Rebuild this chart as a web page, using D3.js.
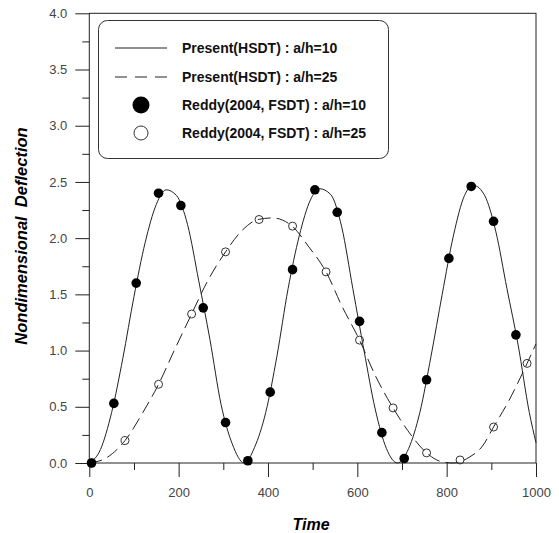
<!DOCTYPE html>
<html>
<head>
<meta charset="utf-8">
<script src="https://cdn.jsdelivr.net/npm/d3@7"></script>
<style>
  body { margin: 0; background: #fff; }
  svg { display: block; font-family: Arial, "Liberation Sans", sans-serif; }
</style>
</head>
<body>
<div id="chart"></div>
<script>
// curve of the present HSDT solution, a/h=10
const hsdt10 = [
  [0, 0], [25, 0.12], [50, 0.45], [75, 0.93], [100, 1.48], [125, 1.96], [150, 2.30],
  [172, 2.43], [195, 2.38], [220, 2.12], [245, 1.62], [270, 1.10], [295, 0.52],
  [320, 0.17], [347, 0.0], [370, 0.14], [395, 0.45], [420, 0.95], [445, 1.55],
  [470, 2.02], [495, 2.34], [515, 2.44], [540, 2.39], [565, 2.10], [590, 1.55],
  [615, 1.00], [640, 0.48], [665, 0.13], [690, 0.0], [715, 0.13], [740, 0.45],
  [765, 0.95], [790, 1.50], [815, 2.02], [840, 2.38], [860, 2.47], [885, 2.38],
  [910, 2.06], [935, 1.55], [960, 1.05], [985, 0.45], [1000, 0.18]
];
// curve of the present HSDT solution, a/h=25
const hsdt25 = [
  [0, 0], [40, 0.05], [80, 0.20], [120, 0.45], [155, 0.70], [190, 1.00], [229, 1.325],
  [265, 1.62], [305, 1.878], [340, 2.06], [378, 2.166], [410, 2.18], [454, 2.107],
  [490, 1.93], [530, 1.70], [565, 1.40], [605, 1.093], [640, 0.78], [680, 0.49],
  [720, 0.25], [755, 0.09], [790, 0.01], [815, 0.0], [850, 0.05], [880, 0.15],
  [905, 0.32], [940, 0.56], [980, 0.886], [1000, 1.06]
];
// Reddy (2004, FSDT) points
const reddy10 = [
  [5, 0.0], [55, 0.53], [105, 1.60], [155, 2.40], [205, 2.29], [255, 1.38],
  [305, 0.36], [355, 0.02], [405, 0.63], [455, 1.72], [505, 2.43], [555, 2.23],
  [605, 1.26], [655, 0.27], [705, 0.04], [755, 0.74], [805, 1.82], [855, 2.46],
  [905, 2.15], [955, 1.14]
];
const reddy25 = [
  [5, 0.0], [80, 0.20], [155, 0.70], [229, 1.325], [305, 1.878], [380, 2.166],
  [455, 2.107], [530, 1.70], [605, 1.093], [680, 0.49], [755, 0.09], [830, 0.027],
  [905, 0.32], [980, 0.886]
];
const legendLabels = [
  'Present(HSDT) : a/h=10',
  'Present(HSDT) : a/h=25',
  'Reddy(2004, FSDT) : a/h=10',
  'Reddy(2004, FSDT) : a/h=25'
];
const xTicks = [0, 200, 400, 600, 800, 1000];
const yTicks = [0, 0.5, 1.0, 1.5, 2.0, 2.5, 3.0, 3.5, 4.0];

const width = 559, height = 533;
const plotLeft = 89.3, plotRight = 536, plotTop = 13.3, plotBottom = 463;

const svg = d3.select('#chart').append('svg')
  .attr('width', width)
  .attr('height', height);

const x = d3.scaleLinear().domain([0, 1000]).range([plotLeft, plotRight]);
const y = d3.scaleLinear().domain([0, 4]).range([plotBottom, plotTop]);

// frame
svg.append('rect')
  .attr('x', plotLeft).attr('y', plotTop)
  .attr('width', plotRight - plotLeft).attr('height', plotBottom - plotTop)
  .attr('fill', 'none').attr('stroke', '#222').attr('stroke-width', 1);

// minor ticks
svg.append('g')
  .attr('transform', `translate(${plotLeft},0)`)
  .call(d3.axisLeft(y).tickValues(d3.range(0.25, 4, 0.5)).tickSize(7).tickSizeOuter(0).tickFormat(''));
svg.append('g')
  .attr('transform', `translate(0,${plotBottom})`)
  .call(d3.axisBottom(x).tickValues(d3.range(100, 1000, 200)).tickSize(7).tickSizeOuter(0).tickFormat(''));

// major ticks
const yAxis = svg.append('g')
  .attr('transform', `translate(${plotLeft},0)`)
  .call(d3.axisLeft(y).tickValues(yTicks).tickSize(14).tickPadding(8).tickFormat(d3.format('.1f')));
const xAxis = svg.append('g')
  .attr('transform', `translate(0,${plotBottom})`)
  .call(d3.axisBottom(x).tickValues(xTicks).tickSize(14).tickPadding(11).tickFormat(d3.format('d')));

svg.selectAll('.tick line').attr('stroke', '#222');
svg.selectAll('.domain').remove();
[yAxis, xAxis].forEach(a => a.selectAll('text')
  .attr('font-size', 13).attr('fill', '#444')
  .attr('font-family', 'Arial, "Liberation Sans", sans-serif'));

// curves
const line = d3.line()
  .x(d => x(d[0]))
  .y(d => y(d[1]))
  .curve(d3.curveMonotoneX);

svg.append('path')
  .datum(hsdt10)
  .attr('d', line)
  .attr('fill', 'none').attr('stroke', '#222').attr('stroke-width', 1);

svg.append('path')
  .datum(hsdt25)
  .attr('d', line)
  .attr('fill', 'none').attr('stroke', '#222').attr('stroke-width', 1)
  .attr('stroke-dasharray', '13,6');

svg.append('g').selectAll('circle')
  .data(reddy25)
  .enter().append('circle')
  .attr('cx', d => x(d[0])).attr('cy', d => y(d[1]))
  .attr('r', 4).attr('fill', 'none').attr('stroke', '#333');

svg.append('g').selectAll('circle')
  .data(reddy10)
  .enter().append('circle')
  .attr('cx', d => x(d[0])).attr('cy', d => y(d[1]))
  .attr('r', 4.8).attr('fill', '#000');

// axis titles
svg.append('text')
  .attr('x', 311).attr('y', 530)
  .attr('text-anchor', 'middle')
  .attr('font-size', 16).attr('font-weight', 'bold').attr('font-style', 'italic')
  .text('Time');

svg.append('text')
  .attr('transform', 'translate(27,236) rotate(-90)')
  .attr('text-anchor', 'middle')
  .attr('font-size', 16.5).attr('font-weight', 'bold').attr('font-style', 'italic')
  .style('white-space', 'pre')
  .text('Nondimensional  Deflection');

// legend
const legend = svg.append('g');
legend.append('rect')
  .attr('x', 98.5).attr('y', 20.5)
  .attr('width', 290).attr('height', 138)
  .attr('rx', 9).attr('ry', 9)
  .attr('fill', '#fff').attr('stroke', '#333').attr('stroke-width', 1);

const rowY = [48, 77, 105, 133];
const items = legend.selectAll('.legend')
  .data(legendLabels)
  .enter().append('g')
  .attr('class', 'legend')
  .attr('transform', (d, i) => `translate(0,${rowY[i]})`);

items.append('text')
  .attr('x', 182).attr('y', 5)
  .attr('font-size', 14).attr('font-weight', 'bold').attr('fill', '#111')
  .text(d => d);

items.filter((d, i) => i < 2).append('line')
  .attr('x1', 115).attr('x2', 167)
  .attr('stroke', '#222').attr('stroke-width', 1)
  .attr('stroke-dasharray', (d, i) => i === 1 ? '12,8' : null);

items.filter((d, i) => i === 2).append('circle')
  .attr('cx', 141).attr('r', 8.5).attr('fill', '#000');
items.filter((d, i) => i === 3).append('circle')
  .attr('cx', 141).attr('r', 7).attr('fill', '#fff').attr('stroke', '#333');
</script>
</body>
</html>
